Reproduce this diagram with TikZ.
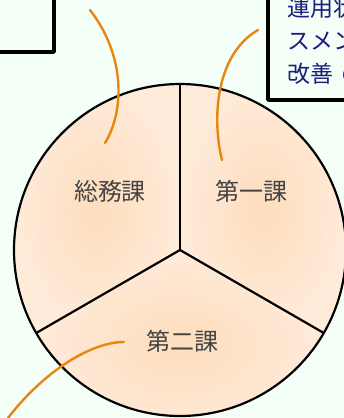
\documentclass[tikz,border=0pt]{standalone}
\usepackage{fontspec}
\newfontfamily\jpfont{Noto Sans CJK JP}
\definecolor{bgmint}{HTML}{F4FFF8}
\definecolor{leader}{HTML}{E8860F}
\definecolor{secgray}{HTML}{444444}
\definecolor{notenavy}{HTML}{1C1C7A}
\definecolor{peachin}{HTML}{FDDDBC}
\definecolor{peachout}{HTML}{FFEBDA}
\tikzset{
  seclabel/.style={text=secgray, font=\jpfont\fontsize{24}{24}\selectfont, inner sep=0pt},
  notetext/.style={text=notenavy, font=\jpfont\fontsize{23}{23}\selectfont, inner sep=0pt, anchor=west},
  notebox/.style={draw=black, line width=3.6pt, line join=round},
  leaderline/.style={draw=leader, line width=2.4pt, line cap=round},
}
\begin{document}
\begin{tikzpicture}[x=1pt, y=-1pt]
		    \useasboundingbox[fill=bgmint] (0,0) rectangle (344,418);
		    % sectors
		    \coordinate (c) at (180,250);
		    \coordinate (top) at (180,84);
		    \coordinate (left) at (36.2,333);
		    \coordinate (right) at (323.8,333);
		    \shade[inner color=peachin, outer color=peachout] (c) -- (top) arc[start angle=-90, end angle=-210, radius=166] -- cycle;
		    \shade[inner color=peachin, outer color=peachout] (c) -- (top) arc[start angle=-90, end angle=30, radius=166] -- cycle;
		    \shade[inner color=peachin, outer color=peachout] (c) -- (left) arc[start angle=150, end angle=30, radius=166] -- cycle;
		    \draw[line width=2.2pt] (c) circle[radius=166];
		    \draw[line width=2.2pt] (c) -- (top);
		    \draw[line width=2.2pt] (c) -- (left);
		    \draw[line width=2.2pt] (c) -- (right);
		    
		    \node (somu) at (110,191) [seclabel] {総務課};
		    \node (daiichi) at (251,191) [seclabel] {第一課};
		    \node (daini) at (182,341) [seclabel] {第二課};
		    
		    % note boxes
		    \draw[notebox] (-10,-10) -- (54,-10) -- (54,52) -- (-10,52);
		    \draw[notebox] (268,-10) -- (268,100) -- (360,100);
		    \node (note1) at (287,8) [notetext] {運用状況};
		    \node (note2) at (287,41) [notetext] {スメント};
		    \node (note3) at (287,74) [notetext] {改善\hspace{8pt}の};
		    
		    % leaders
		    \coordinate (lead1) at (90,10);
		    \coordinate (lead2) at (258,30);
		    \coordinate (lead3) at (8,418);
		    \draw[leaderline] (lead1) .. controls (125,55) and (125,110) .. (105,143);
		    \draw[leaderline] (lead2) .. controls (215,55) and (212,120) .. (222,160);
		    \draw[leaderline] (124,342) .. controls (92,342) and (45,370) .. (lead3);
		\end{tikzpicture}
\end{document}
